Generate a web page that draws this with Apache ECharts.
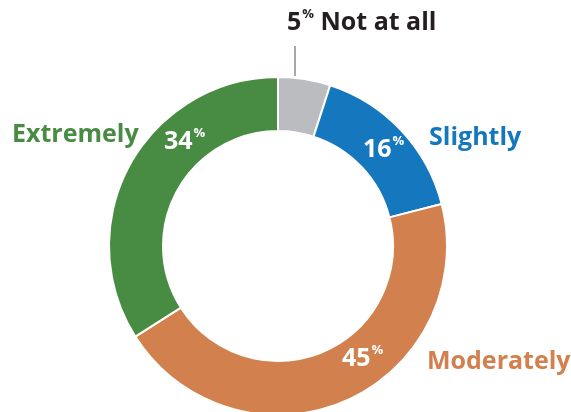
<!DOCTYPE html>
<html>
<head>
<meta charset="utf-8">
<script src="https://cdn.jsdelivr.net/npm/echarts@6/dist/echarts.min.js"></script>
<style>
  html, body { margin: 0; padding: 0; background: #fff; }
  #main { width: 571px; height: 412px; }
</style>
</head>
<body>
<div id="main"></div>
<script>
// data, clockwise from 12 o'clock
var categories = ['Not at all', 'Slightly', 'Moderately', 'Extremely'];
var percents = [5, 16, 45, 34];
var colors = ['#bbbcbf', '#1577bd', '#d2804e', '#478c42'];
var textColors = ['#231f20', '#1577bd', '#d2804e', '#478c42'];

// where the labels sit (left x, middle y)
var namePos = [[287, 23], [429, 138], [427, 362], [12, 135]];
var valuePos = [null, [363, 150], [342, 359], [164, 142]];

var FONT = '"Open Sans", "Noto Sans", sans-serif';

var chartDom = document.getElementById('main');
var myChart = echarts.init(chartDom);

var pieData = categories.map(function (c, i) {
    return { name: c, value: percents[i], itemStyle: { color: colors[i] } };
});

function pctRich(color) {
    return {
        n: { fontFamily: FONT, fontWeight: 'bold', fontSize: 25, color: color, lineHeight: 30 },
        p: { fontFamily: FONT, fontWeight: 'bold', fontSize: 13, color: color, verticalAlign: 'top', lineHeight: 30, padding: [0, 0, 0, 1] },
        b: { fontFamily: FONT, fontWeight: 'bold', fontSize: 25, color: color, lineHeight: 30 }
    };
}

var option = {
    backgroundColor: '#fff',
    animation: false,
    graphic: [
        {
            // leader line for "Not at all"
            type: 'line',
            shape: { x1: 295, y1: 46, x2: 295, y2: 76 },
            style: { stroke: '#6d6e71', lineWidth: 1.2 }
        }
    ],
    series: [
        {
            // ring with the inside percentages
            type: 'pie',
            center: [278, 246],
            radius: [115, 169],
            startAngle: 90,
            clockwise: true,
            silent: true,
            itemStyle: { borderColor: '#fff', borderWidth: 2 },
            label: {
                show: true,
                position: 'inside',
                overflow: 'none',
                formatter: function (p) {
                    if (p.dataIndex === 0) return '';
                    return '{n|' + p.value + '}{p|%}';
                },
                rich: pctRich('#fff')
            },
            labelLine: { show: false },
            labelLayout: function (params) {
                var pos = valuePos[params.dataIndex];
                if (!pos) return {};
                return { x: pos[0], y: pos[1], align: 'left', verticalAlign: 'middle' };
            },
            data: pieData
        },
        {
            // transparent copy that carries the category names
            type: 'pie',
            center: [278, 246],
            radius: [115, 169],
            startAngle: 90,
            clockwise: true,
            silent: true,
            itemStyle: { color: 'rgba(0,0,0,0)' },
            label: {
                show: true,
                position: 'outside',
                overflow: 'none',
                width: 200,
                formatter: function (p) {
                    var i = p.dataIndex;
                    if (i === 0) return '{n|' + p.value + '}{p|%}{b| ' + p.name + '}';
                    return '{b|' + p.name + '}';
                },
                rich: {}
            },
            labelLine: { show: false },
            labelLayout: function (params) {
                var pos = namePos[params.dataIndex];
                return { x: pos[0], y: pos[1], align: 'left', verticalAlign: 'middle', width: 200 };
            },
            data: categories.map(function (c, i) {
                return {
                    name: c,
                    value: percents[i],
                    label: { rich: pctRich(textColors[i]) }
                };
            })
        }
    ]
};

option && myChart.setOption(option);
</script>
</body>
</html>
